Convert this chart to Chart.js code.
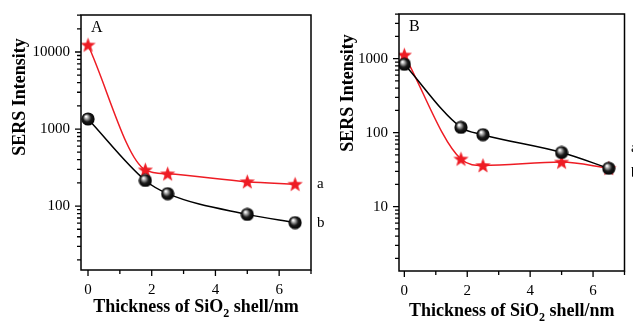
<!DOCTYPE html>
<html>
<head>
<meta charset="utf-8">
<script src="https://cdn.jsdelivr.net/npm/chart.js@4.4.1/dist/chart.umd.min.js"></script>
<style>
  body { margin: 0; background: #fff; }
  #wrap { position: relative; width: 633px; height: 321px; overflow: hidden; }
  canvas { position: absolute; top: 0; }
</style>
</head>
<body>
<div id="wrap">
  <canvas id="chartA" width="330" height="321" style="left:0"></canvas>
  <canvas id="chartB" width="313" height="321" style="left:320px"></canvas>
</div>
<script>
// thickness of SiO2 shell (nm)
const thickness = [0, 1.8, 2.5, 5, 6.5];

// panel A
const seriesA_a = [12300, 295, 262, 207, 192];
const seriesA_b = [1350, 215, 145, 78, 61];
// panel B
const seriesB_a = [1120, 44, 36, 40, 33];
const seriesB_b = [840, 118, 94, 54, 33];

const xMajorTicks = [0, 2, 4, 6];
const xMinorTicks = [1, 3, 5, 7];
const yMajorTicksA = [100, 1000, 10000];
const yMajorTicksB = [10, 100, 1000];

const FONT = "'Liberation Serif', 'DejaVu Serif', serif";
const RED = '#ee1c24';

// marker images
function makeStar() {
  const c = document.createElement('canvas');
  c.width = 17; c.height = 17;
  const g = c.getContext('2d');
  const cx = 8.5, cy = 9, R = 8, r = 3.3;
  g.beginPath();
  for (let i = 0; i < 10; i++) {
    const rad = i % 2 ? r : R;
    const a = -Math.PI / 2 + i * Math.PI / 5;
    g.lineTo(cx + rad * Math.cos(a), cy + rad * Math.sin(a));
  }
  g.closePath();
  g.fillStyle = RED;
  g.fill();
  return c;
}
function makeBall() {
  const c = document.createElement('canvas');
  c.width = 14; c.height = 14;
  const g = c.getContext('2d');
  const grad = g.createRadialGradient(5, 4.5, 0.5, 7, 7, 7);
  grad.addColorStop(0, '#ffffff');
  grad.addColorStop(0.25, '#9a9a9a');
  grad.addColorStop(0.55, '#1a1a1a');
  grad.addColorStop(1, '#000000');
  g.beginPath();
  g.arc(7, 7, 6.6, 0, Math.PI * 2);
  g.fillStyle = grad;
  g.fill();
  return c;
}
const starImg = makeStar();
const ballImg = makeBall();

function minorLog(min, max) {
  const out = [];
  for (let e = -1; e <= 5; e++) {
    for (let m = 2; m <= 9; m++) {
      const v = m * Math.pow(10, e);
      if (v > min && v < max) out.push(v);
    }
  }
  return out;
}

// draws frame, tick marks, titles and text labels
const decorPlugin = {
  id: 'decor',
  afterDraw(chart, args, o) {
    const ctx = chart.ctx;
    const xs = chart.scales.x, ys = chart.scales.y;
    const ca = chart.chartArea;
    ctx.save();
    ctx.strokeStyle = '#000';
    ctx.lineWidth = 1.5;
    ctx.strokeRect(ca.left, ca.top, ca.right - ca.left, ca.bottom - ca.top);

    ctx.lineWidth = 1.3;
    ctx.beginPath();
    xMajorTicks.forEach(v => { const p = xs.getPixelForValue(v); ctx.moveTo(p, ca.bottom); ctx.lineTo(p, ca.bottom + 6); });
    xMinorTicks.forEach(v => { const p = xs.getPixelForValue(v); ctx.moveTo(p, ca.bottom); ctx.lineTo(p, ca.bottom + 4); });
    o.yMajor.forEach(v => { const p = ys.getPixelForValue(v); ctx.moveTo(ca.left, p); ctx.lineTo(ca.left - 6, p); });
    minorLog(ys.min, ys.max).forEach(v => { const p = ys.getPixelForValue(v); ctx.moveTo(ca.left, p); ctx.lineTo(ca.left - 4, p); });
    ctx.stroke();

    ctx.fillStyle = '#000';
    // panel letter
    ctx.font = '16px ' + FONT;
    ctx.textAlign = 'left';
    ctx.textBaseline = 'alphabetic';
    ctx.fillText(o.letter, ca.left + 10, ca.top + 17);

    // y title
    ctx.save();
    ctx.translate(o.yTitleX, o.yTitleY);
    ctx.rotate(-Math.PI / 2);
    ctx.font = 'bold 18px ' + FONT;
    ctx.textAlign = 'center';
    ctx.textBaseline = 'middle';
    ctx.fillText('SERS Intensity', 0, 0);
    ctx.restore();

    // x title with subscript
    const part1 = 'Thickness of SiO', sub = '2', part2 = ' shell/nm';
    ctx.font = 'bold 18px ' + FONT;
    const w1 = ctx.measureText(part1).width, w3 = ctx.measureText(part2).width;
    ctx.font = 'bold 12px ' + FONT;
    const w2 = ctx.measureText(sub).width;
    let x0 = (ca.left + ca.right) / 2 - (w1 + w2 + w3) / 2;
    ctx.textAlign = 'left';
    ctx.font = 'bold 18px ' + FONT;
    ctx.fillText(part1, x0, o.xTitleY);
    ctx.font = 'bold 12px ' + FONT;
    ctx.fillText(sub, x0 + w1, o.xTitleY + 5);
    ctx.font = 'bold 18px ' + FONT;
    ctx.fillText(part2, x0 + w1 + w2, o.xTitleY);

    // series labels
    ctx.font = '15px ' + FONT;
    (o.labels || []).forEach(l => {
      ctx.fillText(l.text, l.x, l.y);
    });
    ctx.restore();
  }
};

function makeChart(id, aVals, bVals, cfg) {
  const ctx = document.getElementById(id).getContext('2d');
  const ds = (vals, color, img) => ({
    data: thickness.map((x, i) => ({ x, y: vals[i] })),
    borderColor: color,
    borderWidth: 1.5,
    pointStyle: img,
    pointRadius: 7,
    pointHoverRadius: 7,
    cubicInterpolationMode: 'monotone',
    fill: false
  });
  return new Chart(ctx, {
    type: 'line',
    data: {
      datasets: [
        ds(bVals, '#000', ballImg),
        ds(aVals, RED, starImg)
      ]
    },
    options: {
      responsive: false,
      animation: false,
      events: [],
      layout: { padding: cfg.padding },
      plugins: {
        legend: { display: false },
        tooltip: { enabled: false },
        decor: cfg.decor
      },
      scales: {
        x: {
          type: 'linear',
          min: cfg.xMin, max: 7,
          afterBuildTicks: s => { s.ticks = xMajorTicks.map(v => ({ value: v })); },
          afterFit: s => { s.height = cfg.xH; },
          grid: { display: false },
          border: { display: false },
          ticks: { color: '#000', font: { family: FONT, size: 15 }, padding: 3, maxRotation: 0 }
        },
        y: {
          type: 'logarithmic',
          min: cfg.yMin, max: cfg.yMax,
          afterBuildTicks: s => { s.ticks = cfg.decor.yMajor.map(v => ({ value: v })); },
          afterFit: s => { s.width = cfg.yW; },
          grid: { display: false },
          border: { display: false },
          ticks: { color: '#000', font: { family: FONT, size: 15 }, padding: 3, callback: v => String(v) }
        }
      }
    },
    plugins: [decorPlugin]
  });
}

makeChart('chartA', seriesA_a, seriesA_b, {
  padding: { left: 0, right: 19, top: 15, bottom: 0 },
  xMin: -0.22, yMin: 14.8, yMax: 30200, xH: 51, yW: 81,
  decor: {
    letter: 'A', yMajor: yMajorTicksA, yTitleX: 20, yTitleY: 97, xTitleY: 312,
    labels: [{ text: 'a', x: 317, y: 188 }, { text: 'b', x: 317, y: 227 }]
  }
});

makeChart('chartB', seriesB_a, seriesB_b, {
  padding: { left: 0, right: 8, top: 14, bottom: 0 },
  xMin: -0.17, yMin: 1.35, yMax: 4020, xH: 50, yW: 79,
  decor: {
    letter: 'B', yMajor: yMajorTicksB, yTitleX: 28, yTitleY: 93, xTitleY: 316,
    labels: [{ text: 'a', x: 311, y: 152 }, { text: 'b', x: 311, y: 177 }]
  }
});
</script>
</body>
</html>
